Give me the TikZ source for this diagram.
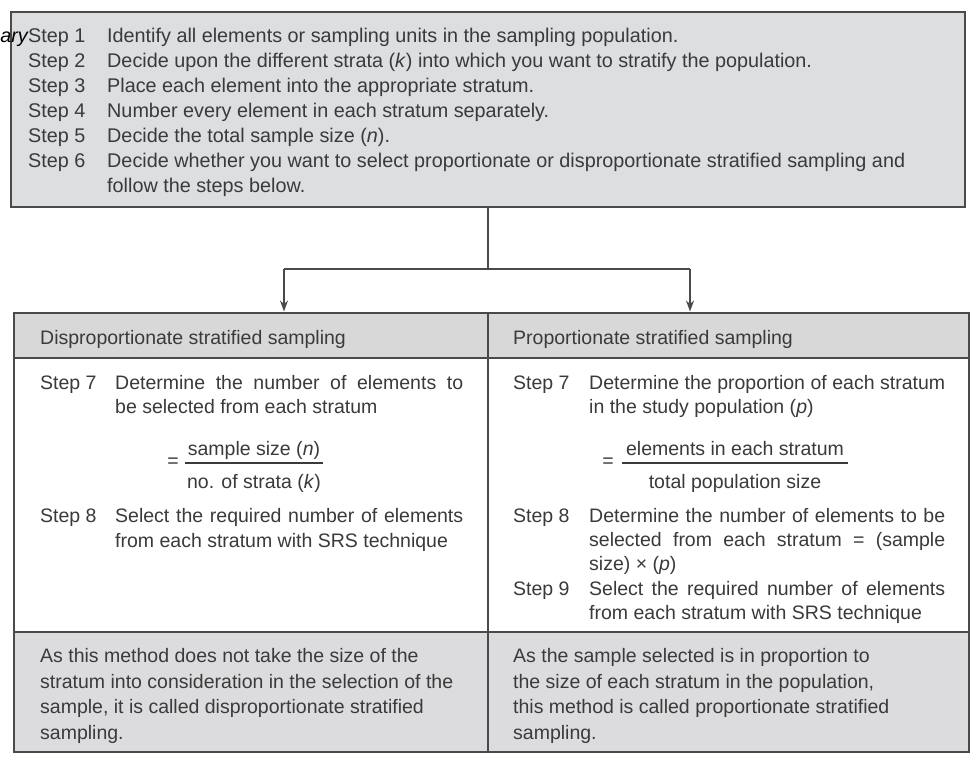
\documentclass[tikz,border=0pt]{standalone}
\usepackage{fontspec}
\setmainfont{Liberation Sans}
\usetikzlibrary{arrows.meta}
\definecolor{linec}{HTML}{4A4A4A}
\definecolor{txtc}{HTML}{3A3A3A}
\definecolor{topfill}{HTML}{DDDEE0}
\definecolor{hdrfill}{HTML}{D8D8D9}
\definecolor{footfill}{HTML}{DCDCDE}
\tikzset{
 cell/.style={draw=linec, line width=1.8pt, anchor=north west, inner sep=0pt, outer sep=0pt},
 topt/.style={anchor=base west, inner sep=0pt, text=txtc, font=\fontsize{19.8}{24}\selectfont},
 tabt/.style={anchor=base west, inner sep=0pt, text=txtc, font=\fontsize{19.5}{24}\selectfont},
 fract/.style={tabt, anchor=base},
 conn/.style={draw=linec, line width=1.6pt},
 arr/.style={conn, -{Stealth[length=11pt,width=8pt]}, shorten >=1.5pt},
 fbar/.style={draw=txtc, line width=1.2pt},
}
\begin{document}
\begin{tikzpicture}[x=1pt,y=-1pt]
\path[use as bounding box] (0,0) rectangle (973,761);

% top box
\node[cell, fill=topfill, minimum width=954pt, minimum height=195pt] (top) at (11,12) {};
\node[anchor=base east, inner sep=0pt, font=\fontsize{19.8}{24}\selectfont\itshape] (frag) at (28,42) {ary};
\node[topt] (s1) at (28,42) {Step 1};
\node[topt] (s1t) at (107,42) {Identify all elements or sampling units in the sampling population.};
\node[topt] (s2) at (28,67) {Step 2};
\node[topt] (s2t) at (107,67) {Decide upon the different strata (\textit{k}) into which you want to stratify the population.};
\node[topt] (s3) at (28,92) {Step 3};
\node[topt] (s3t) at (107,92) {Place each element into the appropriate stratum.};
\node[topt] (s4) at (28,117) {Step 4};
\node[topt] (s4t) at (107,117) {Number every element in each stratum separately.};
\node[topt] (s5) at (28,142) {Step 5};
\node[topt] (s5t) at (107,142) {Decide the total sample size (\textit{n}).};
\node[topt] (s6) at (28,167) {Step 6};
\node[topt] (s6t) at (107,167) {Decide whether you want to select proportionate or disproportionate stratified sampling and};
\node[topt] (s6u) at (107,192) {follow the steps below.};

% table cells
\node[cell, fill=hdrfill, minimum width=474pt, minimum height=45pt] (dhead) at (14,313) {};
\node[cell, fill=hdrfill, minimum width=481pt, minimum height=45pt] (phead) at (488,313) {};
\node[cell, fill=white, minimum width=474pt, minimum height=274pt] (dbody) at (14,358) {};
\node[cell, fill=white, minimum width=481pt, minimum height=274pt] (pbody) at (488,358) {};
\node[cell, fill=footfill, minimum width=474pt, minimum height=120pt] (dfoot) at (14,632) {};
\node[cell, fill=footfill, minimum width=481pt, minimum height=120pt] (pfoot) at (488,632) {};

% connectors
\coordinate (junc) at (488,269);
\coordinate (la) at (284,269);
\coordinate (ra) at (690,269);
\draw[conn] (top.south) -- (junc);
\draw[conn] (la) -- (ra);
\draw[arr] (la) -- (la |- dhead.north);
\draw[arr] (ra) -- (ra |- phead.north);

% headers
\node[tabt] (dh) at (40,344) {Disproportionate stratified sampling};
\node[tabt] (ph) at (513,344) {Proportionate stratified sampling};

% left body
\node[tabt] (d7) at (40,389) {Step 7};
\node[tabt] (d7a) at (115,389) {\makebox[348pt][s]{Determine the number of elements to}};
\node[tabt] (d7b) at (115,413) {be selected from each stratum};
\node[tabt, anchor=center] (deq) at (173,463) {=};
\node[fract] (dnum) at (254,455) {sample size (\textit{n})};
\coordinate (db1) at (185,463);
\coordinate (db2) at (323,463);
\draw[fbar] (db1) -- (db2);
\node[fract] (dden) at (254,488) {no. of strata (\textit{k})};
\node[tabt] (d8) at (40,522) {Step 8};
\node[tabt] (d8a) at (115,522) {\makebox[348pt][s]{Select the required number of elements}};
\node[tabt] (d8b) at (115,547) {from each stratum with SRS technique};

% right body
\node[tabt] (p7) at (513,389) {Step 7};
\node[tabt] (p7a) at (589,389) {\makebox[356pt][s]{Determine the proportion of each stratum}};
\node[tabt] (p7b) at (589,413) {in the study population (\textit{p})};
\node[tabt, anchor=center] (peq) at (608,463) {=};
\node[fract] (pnum) at (735,455) {elements in each stratum};
\coordinate (pb1) at (622,463);
\coordinate (pb2) at (848,463);
\draw[fbar] (pb1) -- (pb2);
\node[fract] (pden) at (735,488) {total population size};
\node[tabt] (p8) at (513,522) {Step 8};
\node[tabt] (p8a) at (589,522) {\makebox[356pt][s]{Determine the number of elements to be}};
\node[tabt] (p8b) at (589,546) {\makebox[356pt][s]{selected from each stratum = (sample}};
\node[tabt] (p8c) at (589,570) {size) × (\textit{p})};
\node[tabt] (p9) at (513,595) {Step 9};
\node[tabt] (p9a) at (589,595) {\makebox[356pt][s]{Select the required number of elements}};
\node[tabt] (p9b) at (589,619) {from each stratum with SRS technique};

% footers
\node[tabt] (df1) at (40,662) {As this method does not take the size of the};
\node[tabt] (df2) at (40,688) {stratum into consideration in the selection of the};
\node[tabt] (df3) at (40,713) {sample, it is called disproportionate stratified};
\node[tabt] (df4) at (40,739) {sampling.};
\node[tabt] (pf1) at (513,662) {As the sample selected is in proportion to};
\node[tabt] (pf2) at (513,688) {the size of each stratum in the population,};
\node[tabt] (pf3) at (513,713) {this method is called proportionate stratified};
\node[tabt] (pf4) at (513,739) {sampling.};
\end{tikzpicture}
\end{document}
